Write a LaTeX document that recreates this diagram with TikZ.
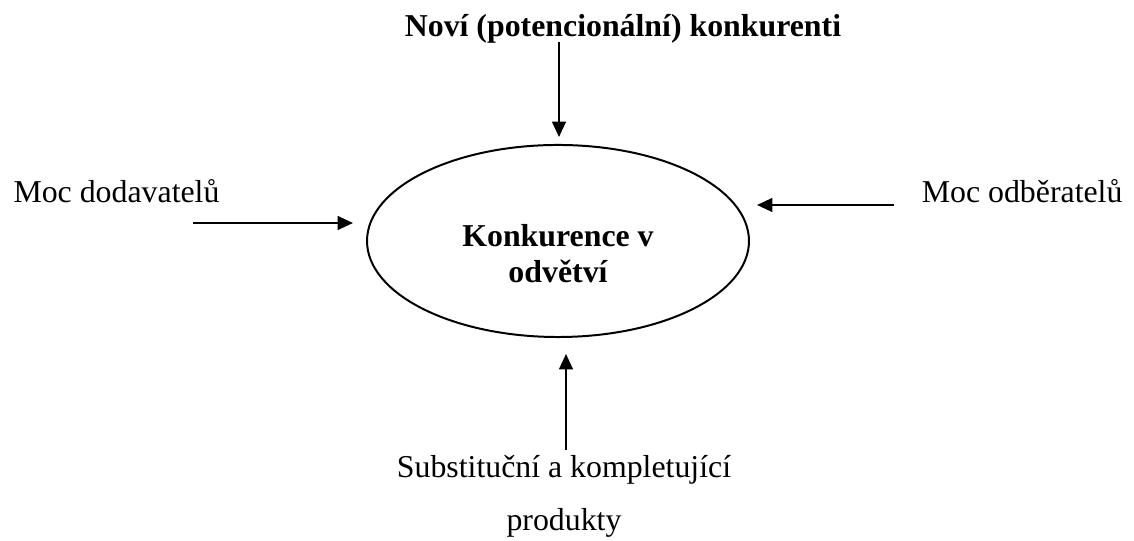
\documentclass[tikz,border=0pt]{standalone}
\usepackage{fontspec}
\setmainfont{Liberation Serif}
\usetikzlibrary{shapes.geometric,arrows.meta}
\begin{document}
\begin{tikzpicture}[x=0.377pt, y=-0.377pt,
  every node/.style={font=\fontsize{12}{13.6}\selectfont, inner sep=0pt},
  force/.style={-{Triangle[length=5.8pt,width=5.2pt]}, line width=0.75pt}]
  \useasboundingbox (0,0) rectangle (1134,541);

  % industry rivalry
  \node[draw, ellipse, line width=0.75pt, minimum width=144pt, minimum height=72.4pt] (core) at (558,241) {};
  \node[font=\bfseries\fontsize{12}{13.6}\selectfont, align=center, anchor=base] (corelbl) at (558,283) {Konkurence v\\odvětví};

  % the four forces
  \node[font=\bfseries\fontsize{12}{13.6}\selectfont, anchor=base] (entrants) at (623,37) {Noví (potencionální) konkurenti};
  \node[anchor=base west] (suppliers) at (13,203) {Moc dodavatelů};
  \node[anchor=base east] (buyers) at (1123,203) {Moc odběratelů};
  \node[font=\fontsize{12}{20}\selectfont, align=center, anchor=base] (substitutes) at (564,531) {Substituční a kompletující\\produkty};

  % arrows
  \coordinate (entrtail) at (559,42);
  \coordinate (entrtip) at (559,137);
  \coordinate (supptail) at (193,223);
  \coordinate (supptip) at (353,223);
  \coordinate (buytail) at (894,205);
  \coordinate (buytip) at (757,205);
  \coordinate (subtail) at (566,450);
  \coordinate (subtip) at (566,354);
  \draw[force] (entrtail) -- (entrtip);
  \draw[force] (supptail) -- (supptip);
  \draw[force] (buytail) -- (buytip);
  \draw[force] (subtail) -- (subtip);
\end{tikzpicture}
\end{document}
